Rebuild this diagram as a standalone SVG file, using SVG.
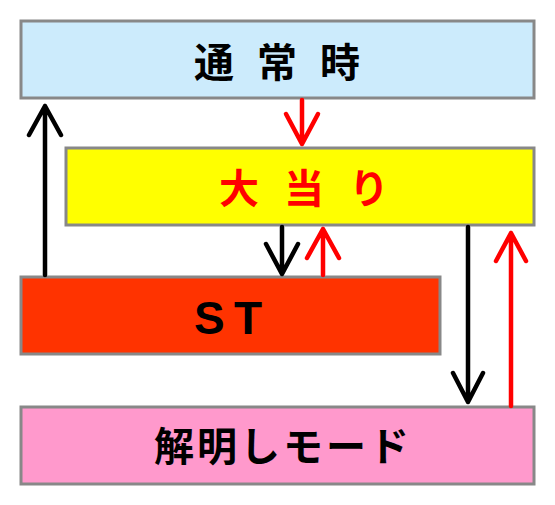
<svg xmlns="http://www.w3.org/2000/svg" width="555" height="505" viewBox="0 0 555 505">
<style>
.box{stroke:#888888;stroke-width:3}
.t{font-family:"Noto Sans CJK JP","Liberation Sans",sans-serif;font-weight:bold;font-size:40px}
.st{font-family:"Liberation Sans",Arial,sans-serif;font-weight:bold;font-size:46px}
.c{fill:none;stroke-width:4.5;stroke-linecap:round;stroke-linejoin:round}
.k{stroke:#000000}
.r{stroke:#FF0000}
</style>
<rect width="555" height="505" fill="#ffffff"/>
<g id="node-normal">
<rect class="box" x="21" y="21" width="513" height="77" fill="#CCEBFC"/>
<text class="t" x="194" y="77" fill="#000000" letter-spacing="23">通常時</text>
</g>
<g id="node-jackpot">
<rect class="box" x="66" y="148" width="468" height="77" fill="#FFFF00"/>
<text class="t" x="219" y="203" fill="#FF0000" letter-spacing="25">大当り</text>
</g>
<g id="node-st">
<rect class="box" x="21" y="277" width="419" height="77" fill="#FF3300"/>
<text class="st" x="194" y="334" fill="#000000">S</text>
<text class="st" x="234" y="334" fill="#000000">T</text>
</g>
<g id="node-reveal">
<rect class="box" x="21" y="407" width="513" height="77" fill="#FF99CC"/>
<text class="t" x="154" y="461" fill="#000000" letter-spacing="3">解明しモード</text>
</g>
<g id="connectors">
<path class="c r" d="M302 100V144M286 114L302 144L318 114"/>
<path class="c k" d="M45 275V106M29 135L45 106L61 135"/>
<path class="c k" d="M282 227V274M266 244L282 274L298 244"/>
<path class="c r" d="M323 275V229M307 258L323 229L339 258"/>
<path class="c k" d="M468 227V402M453 373L468 402L483 373"/>
<path class="c r" d="M511 406V233M496 261L511 233L526 261"/>
</g>
</svg>
